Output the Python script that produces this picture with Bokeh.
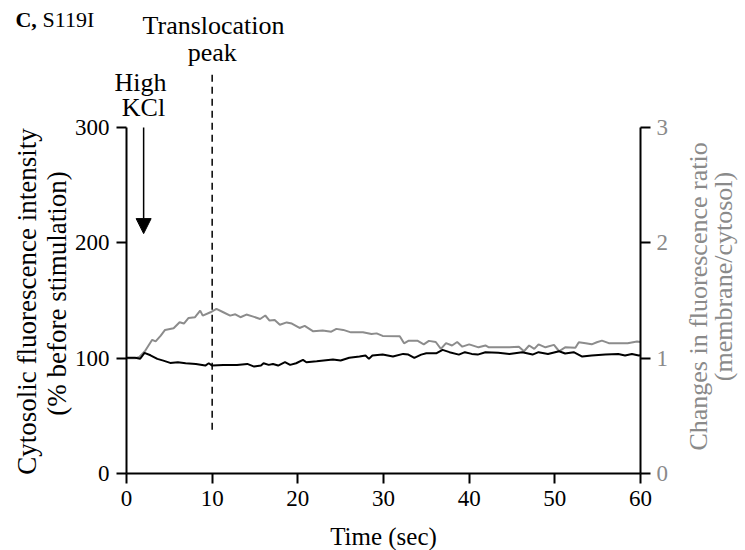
import math
from bokeh.plotting import figure
from bokeh.models import Range1d, LinearAxis, FixedTicker, Label, Arrow, NormalHead
from bokeh.embed import file_html
from bokeh.resources import INLINE

# ---- data ----
time_cyt = [0, 1.0, 1.6, 2.1, 2.8, 3.6, 4.3, 5.1, 6.0, 6.9, 8.1, 9.2, 9.6, 10.0, 11.3,
            12.9, 14.1, 14.9, 15.7, 16.0, 16.6, 17.1, 17.7, 18.5, 19.1, 19.8, 20.6, 21.0,
            22.2, 24.1, 25.0, 26.0, 27.2, 27.9, 28.3, 28.7, 29.9, 31.1, 32.3, 32.9, 33.6,
            34.4, 35.0, 36.2, 36.9, 37.7, 38.8, 39.5, 40.3, 41.0, 41.9, 43.4, 44.7, 46.2,
            47.4, 48.1, 49.2, 50.5, 51.2, 52.2, 53.2, 54.3, 55.9, 57.4, 58.2, 59.0, 59.8, 60.0]
cytosolic = [100.3, 100.3, 99.5, 104.6, 102.5, 99.4, 97.9, 95.9, 96.5, 95.6, 95.0, 93.6,
             95.6, 93.6, 94.0, 94.0, 95.0, 92.7, 93.6, 95.6, 94.2, 95.0, 93.6, 96.5, 94.2,
             95.6, 98.5, 96.5, 97.3, 98.8, 98.0, 100.3, 101.4, 102.3, 99.4, 102.3, 103.1,
             101.4, 103.7, 103.1, 100.3, 103.1, 104.3, 104.3, 107.2, 105.2, 103.1, 105.2,
             103.7, 103.1, 105.2, 104.6, 103.7, 105.2, 103.1, 105.2, 103.7, 106.0, 104.0,
             105.2, 101.4, 102.3, 103.1, 103.7, 102.3, 103.7, 102.3, 102.5]

time_ratio = [0, 1.0, 1.5, 2.2, 3.0, 3.4, 4.0, 4.5, 5.5, 6.2, 6.7, 7.25, 8.0, 8.6, 8.9,
              9.8, 10.5, 11.3, 12.1, 12.7, 13.3, 14.0, 14.8, 15.6, 16.2, 16.7, 17.3, 17.9,
              18.7, 19.3, 20.2, 20.8, 21.8, 22.9, 23.9, 24.5, 25.3, 26.2, 27.6, 28.6, 29.2,
              29.9, 31.9, 32.4, 32.9, 34.0, 34.7, 35.3, 36.1, 36.7, 37.3, 38.0, 38.6, 39.2,
              40.0, 41.1, 41.9, 42.3, 43.5, 44.7, 45.8, 46.4, 47.0, 47.6, 48.1, 48.9, 49.9,
              50.5, 51.2, 52.4, 52.8, 53.6, 54.3, 54.9, 55.5, 56.3, 57.4, 58.5, 59.6, 60.0]
ratio = [1.00, 1.00, 1.01, 1.066, 1.159, 1.146, 1.196, 1.245, 1.259, 1.311, 1.30, 1.349,
         1.355, 1.412, 1.369, 1.398, 1.427, 1.398, 1.369, 1.38, 1.355, 1.378, 1.36, 1.34,
         1.37, 1.326, 1.33, 1.29, 1.31, 1.30, 1.262, 1.28, 1.233, 1.24, 1.23, 1.254, 1.245,
         1.224, 1.224, 1.21, 1.215, 1.193, 1.19, 1.129, 1.15, 1.15, 1.12, 1.15, 1.14, 1.08,
         1.13, 1.11, 1.14, 1.10, 1.12, 1.094, 1.11, 1.094, 1.094, 1.094, 1.10, 1.06, 1.11,
         1.08, 1.12, 1.094, 1.115, 1.06, 1.094, 1.09, 1.138, 1.13, 1.12, 1.138, 1.152, 1.13,
         1.13, 1.13, 1.145, 1.14]

x_ticks = [0, 10, 20, 30, 40, 50, 60]
left_ticks = [0, 100, 200, 300]
right_ticks = [0, 1, 2, 3]
kcl_time = 2.0
peak_time = 10.0

FONT = "Liberation Serif"
GRAY = "#8a8a8a"

# frame covers the whole canvas; axes are pinned at fixed data locations
p = figure(width=745, height=550, output_backend="svg", toolbar_location=None,
           x_range=Range1d(-14.708, 72.257), y_range=Range1d(-66.76, 410.12),
           x_axis_type=None, y_axis_type=None,
           min_border_left=0, min_border_right=0, min_border_top=0, min_border_bottom=0)
p.outline_line_color = None
p.background_fill_color = "white"
p.border_fill_color = "white"
p.extra_y_ranges = {"ratio": Range1d(-0.6676, 4.1012)}


def style(ax, label_color="black", standoff=7):
    ax.axis_line_width = 2
    ax.axis_line_color = "black"
    ax.major_tick_line_width = 2
    ax.major_tick_line_color = "black"
    ax.major_tick_out = 10
    ax.major_tick_in = 0
    ax.minor_tick_out = 0
    ax.minor_tick_in = 0
    ax.major_label_text_font = FONT
    ax.major_label_text_font_size = "23px"
    ax.major_label_text_color = label_color
    ax.major_label_standoff = standoff


xaxis = LinearAxis(ticker=FixedTicker(ticks=x_ticks), bounds=(0, 60), fixed_location=0)
style(xaxis)
p.add_layout(xaxis, "below")

yaxis = LinearAxis(ticker=FixedTicker(ticks=left_ticks), bounds=(0, 300), fixed_location=0)
style(yaxis)
p.add_layout(yaxis, "left")

raxis = LinearAxis(y_range_name="ratio", ticker=FixedTicker(ticks=right_ticks), bounds=(0, 3),
                   fixed_location=60)
style(raxis, GRAY, 6)
p.add_layout(raxis, "right")

# data lines
p.line(time_ratio, ratio, y_range_name="ratio", line_color="#8c8c8c", line_width=2)
p.line(time_cyt, cytosolic, line_color="black", line_width=2)

# translocation peak dashed line
p.segment(x0=[peak_time], y0=[38], x1=[peak_time], y1=[348],
          line_color="black", line_width=1.5, line_dash="7 5")

# High KCl arrow
p.add_layout(Arrow(end=NormalHead(size=15, fill_color="black", line_color="black"),
                   x_start=kcl_time, y_start=300, x_end=kcl_time, y_end=208,
                   line_color="black", line_width=1.5))


def lab(text, x, y, size, color="black", angle=0.0, align="center", baseline="middle",
        style="normal"):
    p.add_layout(Label(x=x, y=y, text=text, text_font=FONT, text_font_size=size,
                       text_color=color, angle=angle, text_align=align,
                       text_baseline=baseline, text_font_style=style))


lab("Translocation", 10.16, 388.4, "26px")
lab("peak", 10.0, 365.0, "26px")
lab("High", 1.63, 339.0, "26px")
lab("KCl", 1.98, 317.3, "26px")

# panel title (cropped in the source image) kept fully visible in the top strip
lab("C,", -12.96, 394.0, "22px", align="left", style="bold")
lab("S119I", -9.80, 394.0, "22px", align="left")

lab("Cytosolic fluorescence intensity", -11.59, 149.1, "27px", angle=math.pi / 2)
lab("(% before stimulation)", -8.09, 156.1, "27px", angle=math.pi / 2)

lab("Changes in fluorescence ratio", 66.80, 153.5, "26px", color=GRAY, angle=math.pi / 2)
lab("(membrane/cytosol)", 69.72, 170.8, "26px", color=GRAY, angle=math.pi / 2)

lab("Time (sec)", 30.0, -54.6, "25px")

open("out.html", "w").write(file_html(p, INLINE))
